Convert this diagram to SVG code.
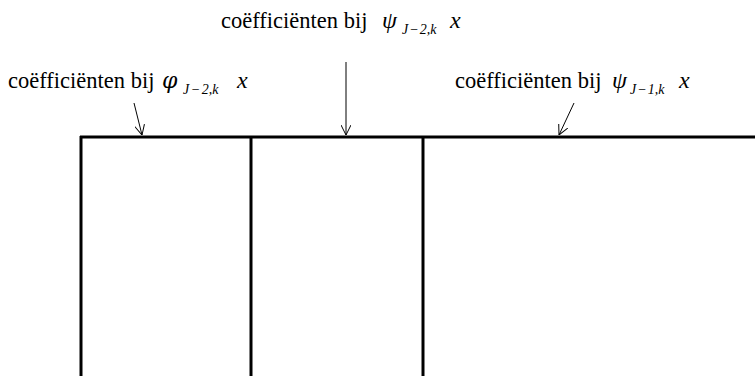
<svg xmlns="http://www.w3.org/2000/svg" width="755" height="376" viewBox="0 0 755 376">
<defs>
<marker id="ah" viewBox="0 0 10 10" refX="10" refY="5" markerWidth="10" markerHeight="10" markerUnits="userSpaceOnUse" orient="auto">
<path d="M0,0 L10,5 L0,10" fill="none" stroke="#000" stroke-width="1"/>
</marker>
<style>
text{font-family:"Liberation Serif","Times New Roman",serif;fill:#000}
.lbl{font-size:22.5px}
.phi{font-family:"DejaVu Serif",serif;font-size:22px;font-style:italic}
.psi{font-size:24px;font-style:italic}
.sub{font-size:14px;font-style:italic}
.x{font-size:24px;font-style:italic}
.frame{stroke:#000;stroke-width:3;fill:none}
.arr{stroke:#000;stroke-width:1;fill:none;marker-end:url(#ah)}
</style>
</defs>
<g id="frame">
<line class="frame" x1="80" y1="137" x2="755" y2="137"/>
<line class="frame" x1="81" y1="136" x2="81" y2="376"/>
<line class="frame" x1="251" y1="136" x2="251" y2="376"/>
<line class="frame" x1="423" y1="136" x2="423" y2="376"/>
</g>
<g id="label-phi">
<text class="lbl" x="8" y="88">coëfficiënten bij</text>
<text class="phi" x="162" y="88">φ</text>
<text class="sub" x="183" y="94">J<tspan dx="1.5">−</tspan><tspan dx="1.5">2,k</tspan></text>
<text class="x" x="237" y="88">x</text>
</g>
<g id="label-psi2">
<text class="lbl" x="221" y="28">coëfficiënten bij</text>
<text class="psi" x="382" y="28">ψ</text>
<text class="sub" x="402" y="34">J<tspan dx="1">−</tspan><tspan dx="1">2,k</tspan></text>
<text class="x" x="450" y="28">x</text>
</g>
<g id="label-psi1">
<text class="lbl" x="455" y="88">coëfficiënten bij</text>
<text class="psi" x="612" y="88">ψ</text>
<text class="sub" x="630" y="94">J<tspan dx="1">−</tspan><tspan dx="1">1,k</tspan></text>
<text class="x" x="679" y="88">x</text>
</g>
<g id="connectors">
<line class="arr" x1="134" y1="103" x2="142" y2="135"/>
<line class="arr" x1="346" y1="62" x2="346" y2="135"/>
<line class="arr" x1="574" y1="103" x2="559" y2="135"/>
</g>
</svg>
